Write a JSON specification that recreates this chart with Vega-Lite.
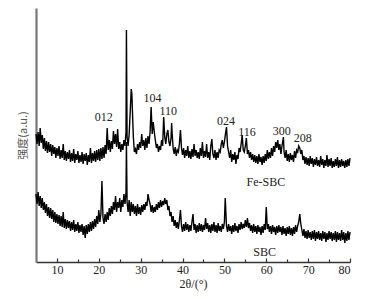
{
"$schema": "https://vega.github.io/schema/vega-lite/v6.json",
"autosize": {"type": "none"},
"padding": {"left": 36, "top": 8, "right": 25, "bottom": 38},
"width": 314,
"height": 254,
"config": {"view": {"stroke": null}, "font": "Liberation Serif"},
"datasets": {
"xrd": [
{"t":5.0,"v":128,"s":"F"},{"t":5.25,"v":118,"s":"F"},{"t":5.5,"v":130,"s":"F"},{"t":5.75,"v":116,"s":"F"},
{"t":6.0,"v":134,"s":"F"},{"t":6.25,"v":119,"s":"F"},{"t":6.5,"v":127,"s":"F"},{"t":6.75,"v":113,"s":"F"},
{"t":7.0,"v":124,"s":"F"},{"t":7.25,"v":111,"s":"F"},{"t":7.5,"v":121,"s":"F"},{"t":7.75,"v":109,"s":"F"},
{"t":8.0,"v":120,"s":"F"},{"t":8.25,"v":110,"s":"F"},{"t":8.5,"v":118,"s":"F"},{"t":8.75,"v":106,"s":"F"},
{"t":9.0,"v":117,"s":"F"},{"t":9.25,"v":108,"s":"F"},{"t":9.5,"v":115,"s":"F"},{"t":9.75,"v":104,"s":"F"},
{"t":10.0,"v":114,"s":"F"},{"t":10.25,"v":106,"s":"F"},{"t":10.5,"v":116,"s":"F"},{"t":10.75,"v":103,"s":"F"},
{"t":11.0,"v":112,"s":"F"},{"t":11.25,"v":104,"s":"F"},{"t":11.5,"v":118,"s":"F"},{"t":11.75,"v":102,"s":"F"},
{"t":12.0,"v":111,"s":"F"},{"t":12.25,"v":101,"s":"F"},{"t":12.5,"v":110,"s":"F"},{"t":12.75,"v":103,"s":"F"},
{"t":13.0,"v":112,"s":"F"},{"t":13.25,"v":100,"s":"F"},{"t":13.5,"v":109,"s":"F"},{"t":13.75,"v":101,"s":"F"},
{"t":14.0,"v":113,"s":"F"},{"t":14.25,"v":99,"s":"F"},{"t":14.5,"v":108,"s":"F"},{"t":14.75,"v":102,"s":"F"},
{"t":15.0,"v":111,"s":"F"},{"t":15.25,"v":99,"s":"F"},{"t":15.5,"v":107,"s":"F"},{"t":15.75,"v":100,"s":"F"},
{"t":16.0,"v":110,"s":"F"},{"t":16.25,"v":98,"s":"F"},{"t":16.5,"v":108,"s":"F"},{"t":16.75,"v":101,"s":"F"},
{"t":17.0,"v":109,"s":"F"},{"t":17.25,"v":97,"s":"F"},{"t":17.5,"v":107,"s":"F"},{"t":17.75,"v":100,"s":"F"},
{"t":18.0,"v":114,"s":"F"},{"t":18.25,"v":99,"s":"F"},{"t":18.5,"v":109,"s":"F"},{"t":18.75,"v":101,"s":"F"},
{"t":19.0,"v":111,"s":"F"},{"t":19.25,"v":100,"s":"F"},{"t":19.5,"v":112,"s":"F"},{"t":19.75,"v":102,"s":"F"},
{"t":20.0,"v":113,"s":"F"},{"t":20.25,"v":101,"s":"F"},{"t":20.5,"v":114,"s":"F"},{"t":20.75,"v":103,"s":"F"},
{"t":21.0,"v":115,"s":"F"},{"t":21.25,"v":104,"s":"F"},{"t":21.5,"v":117,"s":"F"},{"t":21.75,"v":108,"s":"F"},
{"t":22.0,"v":134,"s":"F"},{"t":22.25,"v":112,"s":"F"},{"t":22.5,"v":122,"s":"F"},{"t":22.75,"v":110,"s":"F"},
{"t":23.0,"v":121,"s":"F"},{"t":23.25,"v":113,"s":"F"},{"t":23.5,"v":131,"s":"F"},{"t":23.75,"v":118,"s":"F"},
{"t":24.0,"v":128,"s":"F"},{"t":24.25,"v":115,"s":"F"},{"t":24.5,"v":133,"s":"F"},{"t":24.75,"v":113,"s":"F"},
{"t":25.0,"v":120,"s":"F"},{"t":25.25,"v":110,"s":"F"},{"t":25.5,"v":118,"s":"F"},{"t":25.75,"v":112,"s":"F"},
{"t":26.0,"v":122,"s":"F"},{"t":26.25,"v":116,"s":"F"},{"t":26.5,"v":130,"s":"F"},{"t":26.6,"v":232,"s":"F"},
{"t":26.75,"v":125,"s":"F"},{"t":27.0,"v":116,"s":"F"},{"t":27.25,"v":128,"s":"F"},{"t":27.5,"v":150,"s":"F"},
{"t":27.75,"v":173,"s":"F"},{"t":27.9,"v":168,"s":"F"},{"t":28.0,"v":155,"s":"F"},{"t":28.25,"v":125,"s":"F"},
{"t":28.5,"v":110,"s":"F"},{"t":28.75,"v":113,"s":"F"},{"t":29.0,"v":108,"s":"F"},{"t":29.25,"v":118,"s":"F"},
{"t":29.5,"v":112,"s":"F"},{"t":29.75,"v":120,"s":"F"},{"t":30.0,"v":114,"s":"F"},{"t":30.25,"v":128,"s":"F"},
{"t":30.5,"v":116,"s":"F"},{"t":30.75,"v":122,"s":"F"},{"t":31.0,"v":112,"s":"F"},{"t":31.25,"v":124,"s":"F"},
{"t":31.5,"v":114,"s":"F"},{"t":31.75,"v":126,"s":"F"},{"t":32.0,"v":118,"s":"F"},{"t":32.25,"v":130,"s":"F"},
{"t":32.5,"v":155,"s":"F"},{"t":32.75,"v":128,"s":"F"},{"t":33.0,"v":140,"s":"F"},{"t":33.25,"v":130,"s":"F"},
{"t":33.5,"v":122,"s":"F"},{"t":33.75,"v":114,"s":"F"},{"t":34.0,"v":118,"s":"F"},{"t":34.25,"v":110,"s":"F"},
{"t":34.5,"v":116,"s":"F"},{"t":34.75,"v":112,"s":"F"},{"t":35.0,"v":122,"s":"F"},{"t":35.25,"v":116,"s":"F"},
{"t":35.5,"v":145,"s":"F"},{"t":35.75,"v":125,"s":"F"},{"t":36.0,"v":118,"s":"F"},{"t":36.25,"v":128,"s":"F"},
{"t":36.5,"v":132,"s":"F"},{"t":36.75,"v":120,"s":"F"},{"t":37.0,"v":116,"s":"F"},{"t":37.25,"v":124,"s":"F"},
{"t":37.4,"v":139,"s":"F"},{"t":37.5,"v":130,"s":"F"},{"t":37.75,"v":114,"s":"F"},{"t":38.0,"v":108,"s":"F"},
{"t":38.25,"v":115,"s":"F"},{"t":38.5,"v":106,"s":"F"},{"t":38.75,"v":112,"s":"F"},{"t":39.0,"v":110,"s":"F"},
{"t":39.25,"v":118,"s":"F"},{"t":39.5,"v":132,"s":"F"},{"t":39.75,"v":114,"s":"F"},{"t":40.0,"v":107,"s":"F"},
{"t":40.25,"v":114,"s":"F"},{"t":40.5,"v":104,"s":"F"},{"t":40.75,"v":112,"s":"F"},{"t":41.0,"v":106,"s":"F"},
{"t":41.25,"v":116,"s":"F"},{"t":41.5,"v":104,"s":"F"},{"t":41.75,"v":111,"s":"F"},{"t":42.0,"v":103,"s":"F"},
{"t":42.25,"v":113,"s":"F"},{"t":42.5,"v":105,"s":"F"},{"t":42.75,"v":118,"s":"F"},{"t":43.0,"v":106,"s":"F"},
{"t":43.25,"v":112,"s":"F"},{"t":43.5,"v":104,"s":"F"},{"t":43.75,"v":110,"s":"F"},{"t":44.0,"v":103,"s":"F"},
{"t":44.25,"v":114,"s":"F"},{"t":44.5,"v":106,"s":"F"},{"t":44.75,"v":120,"s":"F"},{"t":45.0,"v":104,"s":"F"},
{"t":45.25,"v":111,"s":"F"},{"t":45.5,"v":105,"s":"F"},{"t":45.75,"v":118,"s":"F"},{"t":46.0,"v":104,"s":"F"},
{"t":46.25,"v":110,"s":"F"},{"t":46.5,"v":102,"s":"F"},{"t":46.75,"v":116,"s":"F"},{"t":47.0,"v":123,"s":"F"},
{"t":47.25,"v":108,"s":"F"},{"t":47.5,"v":104,"s":"F"},{"t":47.75,"v":112,"s":"F"},{"t":48.0,"v":102,"s":"F"},
{"t":48.25,"v":110,"s":"F"},{"t":48.5,"v":104,"s":"F"},{"t":48.75,"v":112,"s":"F"},{"t":49.0,"v":110,"s":"F"},
{"t":49.25,"v":118,"s":"F"},{"t":49.5,"v":122,"s":"F"},{"t":49.75,"v":114,"s":"F"},{"t":50.0,"v":120,"s":"F"},
{"t":50.25,"v":128,"s":"F"},{"t":50.5,"v":135,"s":"F"},{"t":50.75,"v":116,"s":"F"},{"t":51.0,"v":110,"s":"F"},
{"t":51.25,"v":104,"s":"F"},{"t":51.5,"v":112,"s":"F"},{"t":51.75,"v":100,"s":"F"},{"t":52.0,"v":108,"s":"F"},
{"t":52.25,"v":102,"s":"F"},{"t":52.5,"v":110,"s":"F"},{"t":52.75,"v":98,"s":"F"},{"t":53.0,"v":107,"s":"F"},
{"t":53.25,"v":103,"s":"F"},{"t":53.5,"v":114,"s":"F"},{"t":53.75,"v":110,"s":"F"},{"t":54.0,"v":118,"s":"F"},
{"t":54.25,"v":127,"s":"F"},{"t":54.5,"v":112,"s":"F"},{"t":54.75,"v":110,"s":"F"},{"t":55.0,"v":116,"s":"F"},
{"t":55.25,"v":124,"s":"F"},{"t":55.5,"v":108,"s":"F"},{"t":55.75,"v":112,"s":"F"},{"t":56.0,"v":104,"s":"F"},
{"t":56.25,"v":110,"s":"F"},{"t":56.5,"v":102,"s":"F"},{"t":56.75,"v":108,"s":"F"},{"t":57.0,"v":100,"s":"F"},
{"t":57.25,"v":107,"s":"F"},{"t":57.5,"v":99,"s":"F"},{"t":57.75,"v":106,"s":"F"},{"t":58.0,"v":98,"s":"F"},
{"t":58.25,"v":108,"s":"F"},{"t":58.5,"v":100,"s":"F"},{"t":58.75,"v":105,"s":"F"},{"t":59.0,"v":97,"s":"F"},
{"t":59.25,"v":106,"s":"F"},{"t":59.5,"v":99,"s":"F"},{"t":59.75,"v":108,"s":"F"},{"t":60.0,"v":101,"s":"F"},
{"t":60.25,"v":112,"s":"F"},{"t":60.5,"v":103,"s":"F"},{"t":60.75,"v":110,"s":"F"},{"t":61.0,"v":104,"s":"F"},
{"t":61.25,"v":114,"s":"F"},{"t":61.5,"v":106,"s":"F"},{"t":61.75,"v":116,"s":"F"},{"t":62.0,"v":110,"s":"F"},
{"t":62.25,"v":120,"s":"F"},{"t":62.5,"v":114,"s":"F"},{"t":62.75,"v":122,"s":"F"},{"t":63.0,"v":112,"s":"F"},
{"t":63.25,"v":118,"s":"F"},{"t":63.5,"v":108,"s":"F"},{"t":63.75,"v":116,"s":"F"},{"t":64.1,"v":125,"s":"F"},
{"t":64.25,"v":110,"s":"F"},{"t":64.5,"v":104,"s":"F"},{"t":64.75,"v":112,"s":"F"},{"t":65.0,"v":101,"s":"F"},
{"t":65.25,"v":108,"s":"F"},{"t":65.5,"v":100,"s":"F"},{"t":65.75,"v":109,"s":"F"},{"t":66.0,"v":102,"s":"F"},
{"t":66.25,"v":107,"s":"F"},{"t":66.5,"v":100,"s":"F"},{"t":66.75,"v":111,"s":"F"},{"t":67.0,"v":104,"s":"F"},
{"t":67.25,"v":112,"s":"F"},{"t":67.5,"v":110,"s":"F"},{"t":67.75,"v":116,"s":"F"},{"t":68.0,"v":114,"s":"F"},
{"t":68.25,"v":108,"s":"F"},{"t":68.5,"v":112,"s":"F"},{"t":68.75,"v":102,"s":"F"},{"t":69.0,"v":106,"s":"F"},
{"t":69.25,"v":98,"s":"F"},{"t":69.5,"v":105,"s":"F"},{"t":69.75,"v":97,"s":"F"},{"t":70.0,"v":104,"s":"F"},
{"t":70.25,"v":96,"s":"F"},{"t":70.5,"v":106,"s":"F"},{"t":70.75,"v":98,"s":"F"},{"t":71.0,"v":104,"s":"F"},
{"t":71.25,"v":95,"s":"F"},{"t":71.5,"v":103,"s":"F"},{"t":71.75,"v":97,"s":"F"},{"t":72.0,"v":105,"s":"F"},
{"t":72.25,"v":96,"s":"F"},{"t":72.5,"v":102,"s":"F"},{"t":72.75,"v":95,"s":"F"},{"t":73.0,"v":106,"s":"F"},
{"t":73.25,"v":97,"s":"F"},{"t":73.5,"v":103,"s":"F"},{"t":73.75,"v":94,"s":"F"},{"t":74.0,"v":102,"s":"F"},
{"t":74.25,"v":96,"s":"F"},{"t":74.5,"v":107,"s":"F"},{"t":74.75,"v":95,"s":"F"},{"t":75.0,"v":103,"s":"F"},
{"t":75.25,"v":96,"s":"F"},{"t":75.5,"v":104,"s":"F"},{"t":75.75,"v":94,"s":"F"},{"t":76.0,"v":101,"s":"F"},
{"t":76.25,"v":95,"s":"F"},{"t":76.5,"v":103,"s":"F"},{"t":76.75,"v":96,"s":"F"},{"t":77.0,"v":105,"s":"F"},
{"t":77.25,"v":94,"s":"F"},{"t":77.5,"v":102,"s":"F"},{"t":77.75,"v":95,"s":"F"},{"t":78.0,"v":103,"s":"F"},
{"t":78.25,"v":96,"s":"F"},{"t":78.5,"v":101,"s":"F"},{"t":78.75,"v":94,"s":"F"},{"t":79.0,"v":102,"s":"F"},
{"t":79.25,"v":95,"s":"F"},{"t":79.5,"v":103,"s":"F"},{"t":79.75,"v":96,"s":"F"},{"t":80.0,"v":104,"s":"F"},
{"t":5.0,"v":68,"s":"S"},{"t":5.25,"v":58,"s":"S"},{"t":5.5,"v":70,"s":"S"},{"t":5.75,"v":56,"s":"S"},
{"t":6.0,"v":66,"s":"S"},{"t":6.25,"v":54,"s":"S"},{"t":6.5,"v":64,"s":"S"},{"t":6.75,"v":52,"s":"S"},
{"t":7.0,"v":60,"s":"S"},{"t":7.25,"v":49,"s":"S"},{"t":7.5,"v":58,"s":"S"},{"t":7.75,"v":46,"s":"S"},
{"t":8.0,"v":55,"s":"S"},{"t":8.25,"v":44,"s":"S"},{"t":8.5,"v":54,"s":"S"},{"t":8.75,"v":43,"s":"S"},
{"t":9.0,"v":52,"s":"S"},{"t":9.25,"v":40,"s":"S"},{"t":9.5,"v":50,"s":"S"},{"t":9.75,"v":39,"s":"S"},
{"t":10.0,"v":48,"s":"S"},{"t":10.25,"v":38,"s":"S"},{"t":10.5,"v":47,"s":"S"},{"t":10.75,"v":36,"s":"S"},
{"t":11.0,"v":46,"s":"S"},{"t":11.25,"v":35,"s":"S"},{"t":11.5,"v":50,"s":"S"},{"t":11.75,"v":34,"s":"S"},
{"t":12.0,"v":43,"s":"S"},{"t":12.25,"v":33,"s":"S"},{"t":12.5,"v":42,"s":"S"},{"t":12.75,"v":34,"s":"S"},
{"t":13.0,"v":41,"s":"S"},{"t":13.25,"v":31,"s":"S"},{"t":13.5,"v":40,"s":"S"},{"t":13.75,"v":32,"s":"S"},
{"t":14.0,"v":42,"s":"S"},{"t":14.25,"v":30,"s":"S"},{"t":14.5,"v":38,"s":"S"},{"t":14.75,"v":31,"s":"S"},
{"t":15.0,"v":40,"s":"S"},{"t":15.25,"v":29,"s":"S"},{"t":15.5,"v":37,"s":"S"},{"t":15.75,"v":30,"s":"S"},
{"t":16.0,"v":38,"s":"S"},{"t":16.25,"v":27,"s":"S"},{"t":16.5,"v":36,"s":"S"},{"t":16.75,"v":24,"s":"S"},
{"t":17.0,"v":37,"s":"S"},{"t":17.25,"v":28,"s":"S"},{"t":17.5,"v":38,"s":"S"},{"t":17.75,"v":30,"s":"S"},
{"t":18.0,"v":40,"s":"S"},{"t":18.25,"v":31,"s":"S"},{"t":18.5,"v":41,"s":"S"},{"t":18.75,"v":33,"s":"S"},
{"t":19.0,"v":43,"s":"S"},{"t":19.25,"v":35,"s":"S"},{"t":19.5,"v":46,"s":"S"},{"t":19.75,"v":38,"s":"S"},
{"t":20.0,"v":52,"s":"S"},{"t":20.25,"v":40,"s":"S"},{"t":20.5,"v":48,"s":"S"},{"t":20.75,"v":81,"s":"S"},
{"t":21.0,"v":44,"s":"S"},{"t":21.25,"v":38,"s":"S"},{"t":21.5,"v":48,"s":"S"},{"t":21.75,"v":40,"s":"S"},
{"t":22.0,"v":50,"s":"S"},{"t":22.25,"v":42,"s":"S"},{"t":22.5,"v":54,"s":"S"},{"t":22.75,"v":46,"s":"S"},
{"t":23.0,"v":56,"s":"S"},{"t":23.25,"v":48,"s":"S"},{"t":23.5,"v":60,"s":"S"},{"t":23.75,"v":52,"s":"S"},
{"t":24.0,"v":66,"s":"S"},{"t":24.25,"v":50,"s":"S"},{"t":24.5,"v":60,"s":"S"},{"t":24.75,"v":54,"s":"S"},
{"t":25.0,"v":64,"s":"S"},{"t":25.25,"v":50,"s":"S"},{"t":25.5,"v":62,"s":"S"},{"t":25.75,"v":55,"s":"S"},
{"t":26.0,"v":68,"s":"S"},{"t":26.25,"v":58,"s":"S"},{"t":26.5,"v":70,"s":"S"},{"t":26.6,"v":120,"s":"S"},
{"t":26.75,"v":60,"s":"S"},{"t":27.0,"v":50,"s":"S"},{"t":27.25,"v":62,"s":"S"},{"t":27.5,"v":46,"s":"S"},
{"t":27.75,"v":60,"s":"S"},{"t":28.0,"v":50,"s":"S"},{"t":28.25,"v":58,"s":"S"},{"t":28.5,"v":48,"s":"S"},
{"t":28.75,"v":56,"s":"S"},{"t":29.0,"v":46,"s":"S"},{"t":29.25,"v":58,"s":"S"},{"t":29.5,"v":48,"s":"S"},
{"t":29.75,"v":55,"s":"S"},{"t":30.0,"v":47,"s":"S"},{"t":30.25,"v":57,"s":"S"},{"t":30.5,"v":50,"s":"S"},
{"t":30.75,"v":58,"s":"S"},{"t":31.0,"v":52,"s":"S"},{"t":31.25,"v":60,"s":"S"},{"t":31.5,"v":56,"s":"S"},
{"t":31.75,"v":68,"s":"S"},{"t":32.0,"v":62,"s":"S"},{"t":32.25,"v":58,"s":"S"},{"t":32.5,"v":50,"s":"S"},
{"t":32.75,"v":57,"s":"S"},{"t":33.0,"v":49,"s":"S"},{"t":33.25,"v":55,"s":"S"},{"t":33.5,"v":50,"s":"S"},
{"t":33.75,"v":58,"s":"S"},{"t":34.0,"v":52,"s":"S"},{"t":34.25,"v":60,"s":"S"},{"t":34.5,"v":54,"s":"S"},
{"t":34.75,"v":62,"s":"S"},{"t":35.0,"v":55,"s":"S"},{"t":35.25,"v":61,"s":"S"},{"t":35.5,"v":57,"s":"S"},
{"t":35.75,"v":64,"s":"S"},{"t":36.0,"v":58,"s":"S"},{"t":36.25,"v":62,"s":"S"},{"t":36.5,"v":52,"s":"S"},
{"t":36.75,"v":56,"s":"S"},{"t":37.0,"v":46,"s":"S"},{"t":37.25,"v":50,"s":"S"},{"t":37.5,"v":40,"s":"S"},
{"t":37.75,"v":46,"s":"S"},{"t":38.0,"v":36,"s":"S"},{"t":38.25,"v":42,"s":"S"},{"t":38.5,"v":34,"s":"S"},
{"t":38.75,"v":40,"s":"S"},{"t":39.0,"v":33,"s":"S"},{"t":39.25,"v":42,"s":"S"},{"t":39.5,"v":52,"s":"S"},
{"t":39.75,"v":36,"s":"S"},{"t":40.0,"v":30,"s":"S"},{"t":40.25,"v":38,"s":"S"},{"t":40.5,"v":31,"s":"S"},
{"t":40.75,"v":40,"s":"S"},{"t":41.0,"v":32,"s":"S"},{"t":41.25,"v":38,"s":"S"},{"t":41.5,"v":30,"s":"S"},
{"t":41.75,"v":37,"s":"S"},{"t":42.0,"v":31,"s":"S"},{"t":42.25,"v":40,"s":"S"},{"t":42.5,"v":48,"s":"S"},
{"t":42.75,"v":32,"s":"S"},{"t":43.0,"v":38,"s":"S"},{"t":43.25,"v":29,"s":"S"},{"t":43.5,"v":37,"s":"S"},
{"t":43.75,"v":30,"s":"S"},{"t":44.0,"v":39,"s":"S"},{"t":44.25,"v":31,"s":"S"},{"t":44.5,"v":38,"s":"S"},
{"t":44.75,"v":30,"s":"S"},{"t":45.0,"v":37,"s":"S"},{"t":45.25,"v":32,"s":"S"},{"t":45.5,"v":44,"s":"S"},
{"t":45.75,"v":33,"s":"S"},{"t":46.0,"v":39,"s":"S"},{"t":46.25,"v":30,"s":"S"},{"t":46.5,"v":37,"s":"S"},
{"t":46.75,"v":29,"s":"S"},{"t":47.0,"v":38,"s":"S"},{"t":47.25,"v":31,"s":"S"},{"t":47.5,"v":40,"s":"S"},
{"t":47.75,"v":30,"s":"S"},{"t":48.0,"v":37,"s":"S"},{"t":48.25,"v":29,"s":"S"},{"t":48.5,"v":39,"s":"S"},
{"t":48.75,"v":31,"s":"S"},{"t":49.0,"v":36,"s":"S"},{"t":49.25,"v":30,"s":"S"},{"t":49.5,"v":38,"s":"S"},
{"t":49.75,"v":33,"s":"S"},{"t":50.0,"v":40,"s":"S"},{"t":50.2,"v":64,"s":"S"},{"t":50.5,"v":36,"s":"S"},
{"t":50.75,"v":30,"s":"S"},{"t":51.0,"v":38,"s":"S"},{"t":51.25,"v":31,"s":"S"},{"t":51.5,"v":36,"s":"S"},
{"t":51.75,"v":28,"s":"S"},{"t":52.0,"v":37,"s":"S"},{"t":52.25,"v":30,"s":"S"},{"t":52.5,"v":39,"s":"S"},
{"t":52.75,"v":31,"s":"S"},{"t":53.0,"v":36,"s":"S"},{"t":53.25,"v":29,"s":"S"},{"t":53.5,"v":38,"s":"S"},
{"t":53.75,"v":32,"s":"S"},{"t":54.0,"v":40,"s":"S"},{"t":54.25,"v":33,"s":"S"},{"t":54.5,"v":38,"s":"S"},
{"t":54.75,"v":34,"s":"S"},{"t":55.0,"v":42,"s":"S"},{"t":55.25,"v":35,"s":"S"},{"t":55.5,"v":44,"s":"S"},
{"t":55.75,"v":34,"s":"S"},{"t":56.0,"v":39,"s":"S"},{"t":56.25,"v":31,"s":"S"},{"t":56.5,"v":37,"s":"S"},
{"t":56.75,"v":29,"s":"S"},{"t":57.0,"v":38,"s":"S"},{"t":57.25,"v":30,"s":"S"},{"t":57.5,"v":36,"s":"S"},
{"t":57.75,"v":28,"s":"S"},{"t":58.0,"v":37,"s":"S"},{"t":58.25,"v":30,"s":"S"},{"t":58.5,"v":35,"s":"S"},
{"t":58.75,"v":27,"s":"S"},{"t":59.0,"v":36,"s":"S"},{"t":59.25,"v":29,"s":"S"},{"t":59.5,"v":38,"s":"S"},
{"t":59.75,"v":32,"s":"S"},{"t":60.0,"v":55,"s":"S"},{"t":60.25,"v":33,"s":"S"},{"t":60.5,"v":38,"s":"S"},
{"t":60.75,"v":30,"s":"S"},{"t":61.0,"v":36,"s":"S"},{"t":61.25,"v":28,"s":"S"},{"t":61.5,"v":37,"s":"S"},
{"t":61.75,"v":30,"s":"S"},{"t":62.0,"v":35,"s":"S"},{"t":62.25,"v":27,"s":"S"},{"t":62.5,"v":36,"s":"S"},
{"t":62.75,"v":29,"s":"S"},{"t":63.0,"v":37,"s":"S"},{"t":63.25,"v":30,"s":"S"},{"t":63.5,"v":35,"s":"S"},
{"t":63.75,"v":27,"s":"S"},{"t":64.0,"v":36,"s":"S"},{"t":64.25,"v":28,"s":"S"},{"t":64.5,"v":34,"s":"S"},
{"t":64.75,"v":26,"s":"S"},{"t":65.0,"v":35,"s":"S"},{"t":65.25,"v":28,"s":"S"},{"t":65.5,"v":36,"s":"S"},
{"t":65.75,"v":27,"s":"S"},{"t":66.0,"v":34,"s":"S"},{"t":66.25,"v":26,"s":"S"},{"t":66.5,"v":35,"s":"S"},
{"t":66.75,"v":28,"s":"S"},{"t":67.0,"v":37,"s":"S"},{"t":67.25,"v":30,"s":"S"},{"t":67.5,"v":36,"s":"S"},
{"t":67.75,"v":40,"s":"S"},{"t":68.0,"v":48,"s":"S"},{"t":68.25,"v":38,"s":"S"},{"t":68.5,"v":32,"s":"S"},
{"t":68.75,"v":26,"s":"S"},{"t":69.0,"v":33,"s":"S"},{"t":69.25,"v":24,"s":"S"},{"t":69.5,"v":31,"s":"S"},
{"t":69.75,"v":23,"s":"S"},{"t":70.0,"v":32,"s":"S"},{"t":70.25,"v":24,"s":"S"},{"t":70.5,"v":30,"s":"S"},
{"t":70.75,"v":22,"s":"S"},{"t":71.0,"v":31,"s":"S"},{"t":71.25,"v":23,"s":"S"},{"t":71.5,"v":32,"s":"S"},
{"t":71.75,"v":21,"s":"S"},{"t":72.0,"v":30,"s":"S"},{"t":72.25,"v":23,"s":"S"},{"t":72.5,"v":31,"s":"S"},
{"t":72.75,"v":22,"s":"S"},{"t":73.0,"v":29,"s":"S"},{"t":73.25,"v":21,"s":"S"},{"t":73.5,"v":31,"s":"S"},
{"t":73.75,"v":23,"s":"S"},{"t":74.0,"v":30,"s":"S"},{"t":74.25,"v":20,"s":"S"},{"t":74.5,"v":29,"s":"S"},
{"t":74.75,"v":22,"s":"S"},{"t":75.0,"v":31,"s":"S"},{"t":75.25,"v":23,"s":"S"},{"t":75.5,"v":30,"s":"S"},
{"t":75.75,"v":21,"s":"S"},{"t":76.0,"v":29,"s":"S"},{"t":76.25,"v":22,"s":"S"},{"t":76.5,"v":31,"s":"S"},
{"t":76.75,"v":20,"s":"S"},{"t":77.0,"v":30,"s":"S"},{"t":77.25,"v":22,"s":"S"},{"t":77.5,"v":29,"s":"S"},
{"t":77.75,"v":21,"s":"S"},{"t":78.0,"v":32,"s":"S"},{"t":78.25,"v":22,"s":"S"},{"t":78.5,"v":30,"s":"S"},
{"t":78.75,"v":19,"s":"S"},{"t":79.0,"v":29,"s":"S"},{"t":79.25,"v":21,"s":"S"},{"t":79.5,"v":31,"s":"S"},
{"t":79.75,"v":22,"s":"S"},{"t":80.0,"v":30,"s":"S"}
],
"labels": [
{"t":21.2,"v":145,"txt":"012"},
{"t":32.8,"v":164,"txt":"104"},
{"t":36.6,"v":151,"txt":"110"},
{"t":50.4,"v":141,"txt":"024"},
{"t":55.4,"v":130,"txt":"116"},
{"t":63.7,"v":131,"txt":"300"},
{"t":68.7,"v":124,"txt":"208"},
{"t":59.9,"v":80,"txt":"Fe-SBC"},
{"t":59.6,"v":10,"txt":"SBC"}
]
},
"layer": [
{
"data": {"name": "xrd"},
"mark": {"type": "line", "color": "#000000", "strokeWidth": 1.4, "interpolate": "linear"},
"encoding": {
"x": {"field": "t", "type": "quantitative", "scale": {"domain": [5, 80], "nice": false, "zero": false},
"axis": {"values": [10, 20, 30, 40, 50, 60, 70, 80], "tickSize": -4, "tickColor": "#333333", "tickWidth": 1.2,
"domainColor": "#333333", "domainWidth": 1.3, "grid": false, "labelFont": "Liberation Serif", "labelFontSize": 12,
"labelColor": "#222222", "labelPadding": 6, "title": "2θ/(°)", "titleFont": "Liberation Serif", "titleFontSize": 12,
"titleFontWeight": "normal", "titleColor": "#222222", "titlePadding": 3}},
"y": {"field": "v", "type": "quantitative", "scale": {"domain": [0, 254], "nice": false, "zero": false},
"axis": {"ticks": false, "labels": false, "grid": false, "domainColor": "#777777", "domainWidth": 2.2,
"title": "强度(a.u.)", "titleFont": "Noto Sans CJK SC", "titleFontSize": 11, "titleFontWeight": "normal",
"titleColor": "#555555", "titlePadding": 8}},
"detail": {"field": "s"}
}
},
{
"data": {"name": "labels"},
"mark": {"type": "text", "font": "Liberation Serif", "fontSize": 12, "color": "#222222", "align": "center", "baseline": "middle"},
"encoding": {
"x": {"field": "t", "type": "quantitative",
"axis": {"orient": "bottom", "values": [15, 25, 35, 45, 55, 65, 75], "tickSize": -3, "tickColor": "#333333", "tickWidth": 1.2,
"domain": false, "labels": false, "grid": false, "title": null}},
"y": {"field": "v", "type": "quantitative"},
"text": {"field": "txt"}
}
}
],
"resolve": {"axis": {"x": "independent"}}
}
